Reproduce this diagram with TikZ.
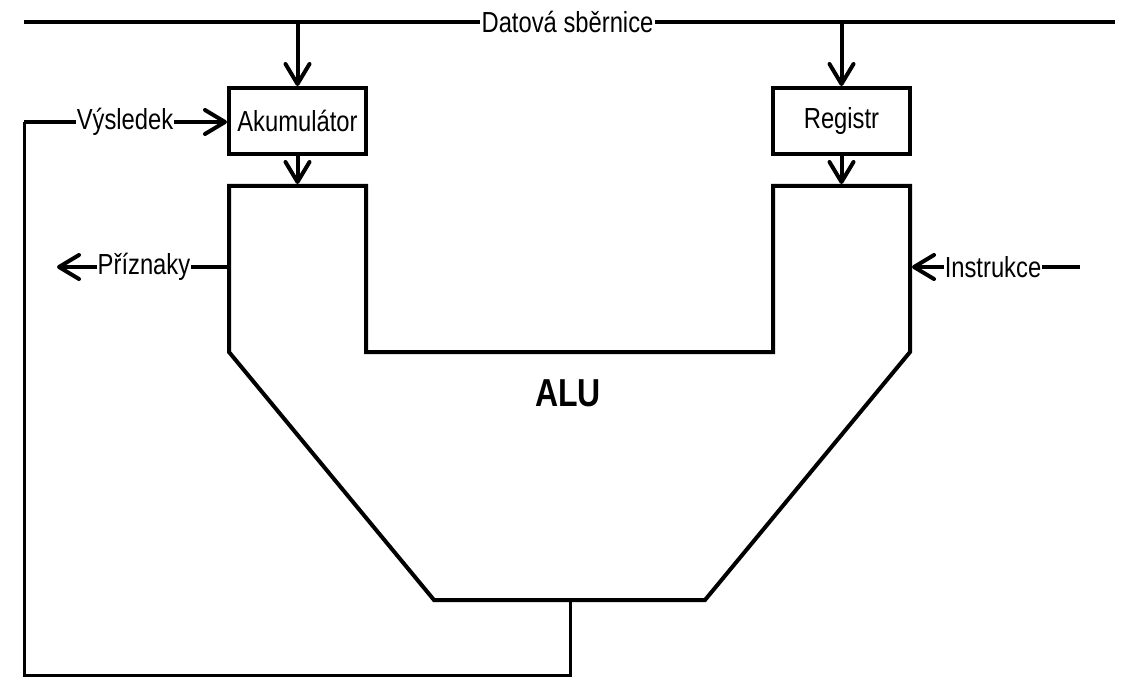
\documentclass[tikz,border=0pt]{standalone}
\usepackage{fontspec}
\setmainfont{Liberation Sans}[FakeStretch=0.82]
\usetikzlibrary{arrows.meta}

\begin{document}
\begin{tikzpicture}[x=1pt,y=-1pt,line join=miter,
  wire/.style={line width=4pt},
  feed/.style={line width=3pt},
  tip/.style={-{Straight Barb[length=20pt,width=24pt,round]}},
  box/.style={draw,line width=4pt,minimum width=137pt,minimum height=66pt,
    inner sep=0pt,font=\fontsize{29}{31}\selectfont},
  lbl/.style={fill=white,inner sep=1pt,font=\fontsize{29}{31}\selectfont},
  title/.style={font=\fontsize{39}{42}\selectfont\bfseries}]
\useasboundingbox (0,0) rectangle (1128,682);

% data bus
\coordinate (busL) at (24,22);
\coordinate (busR) at (1115,22);
\node[lbl] (bus) at (567.5,22) {Datová sběrnice};
\draw[wire] (busL) -- (bus);
\draw[wire] (bus) -- (busR);

% registers
\node[box] (acc) at (297.5,121) {Akumulátor};
\node[box] (reg) at (841.5,121) {Registr};

% ALU outline
\coordinate (accIn) at (297.5,184);
\coordinate (regIn) at (841.5,184);
\draw[wire] (229,186) -- (366,186) -- (366,352) -- (773,352) -- (773,186)
  -- (910,186) -- (910,352) -- (705,600) -- (434,600) -- (229,352) -- cycle;
\node[title] (alu) at (568,393) {ALU};

% bus to registers, registers to ALU
\draw[wire,tip] (acc.north |- busL) -- (acc.north);
\draw[wire,tip] (reg.north |- busR) -- (reg.north);
\draw[wire,tip] (acc.south) -- (accIn);
\draw[wire,tip] (reg.south) -- (regIn);

% flags output
\coordinate (flagSrc) at (229,267);
\coordinate (flagDst) at (57,267);
\node[lbl] (flags) at (144,267) {Příznaky};
\draw[wire] (flagSrc) -- (flags);
\draw[wire,tip] (flags) -- (flagDst);

% instruction input
\coordinate (insSrc) at (1080,267);
\coordinate (insDst) at (912,267);
\node[lbl] (ins) at (993,267) {Instrukce};
\draw[wire] (insSrc) -- (ins);
\draw[wire,tip] (ins) -- (insDst);

% result fed back to the accumulator
\coordinate (res0) at (570,600);
\coordinate (res1) at (570,675);
\coordinate (res2) at (24,675);
\coordinate (res3) at (24,122);
\node[lbl] (res) at (125,122) {Výsledek};
\draw[feed] (res0) -- (res1) -- (res2) -- (res3);
\draw[wire] (res3) -- (res);
\draw[wire,tip] (res) -- (acc.west |- res);
\end{tikzpicture}
\end{document}
